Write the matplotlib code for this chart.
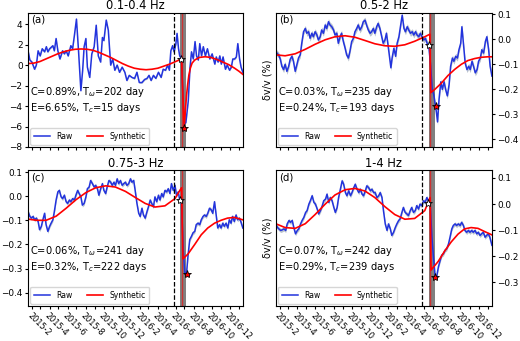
import matplotlib
matplotlib.use("Agg")
import matplotlib.pyplot as plt
import matplotlib.dates as mdates
from matplotlib.ticker import MultipleLocator
import numpy as np
import pandas as pd

t0 = pd.Timestamp("2015-01-18")
t1 = pd.Timestamp("2017-01-15")

# ---- (a) 0.1-0.4 Hz ----
a_days = [0, 6, 13, 22, 28, 34, 41, 48, 56, 62, 67, 73, 84, 89, 95, 101, 108, 117, 123, 129,
          136, 145, 151, 157, 164, 171, 179, 185, 190, 196, 201, 209, 216, 224, 231, 238, 246,
          252, 257, 265, 272, 280, 287, 294, 302, 310, 319, 328, 335, 343, 352, 361, 369, 377,
          386, 395, 403, 410, 417, 425, 433, 442, 451, 458, 466, 473, 479, 484, 490, 495, 501,
          505, 510, 514, 520, 529, 535, 543, 549, 554, 560, 566, 571, 577, 582, 588, 594, 601,
          608, 616, 624, 633, 638, 644, 650, 655, 661, 669, 675, 683, 689, 694, 700, 706, 711,
          717, 722, 728]
a_raw = [1.4, 0.5, 0.3, -0.4, 0.0, 1.4, 0.9, 1.6, 1.3, 1.8, 1.3, 1.6, 1.9, 1.4, 2.6, 1.4, 0.6,
         1.4, 1.1, 1.4, 0.9, 1.9, 1.6, 2.9, 4.5, 1.4, -2.5, -0.5, 1.8, 2.6, -0.2, -1.2, 1.1, 1.8,
         3.9, 0.9, 0.3, 2.7, 2.4, 4.4, 3.4, 0.0, 0.6, -0.5, 0.0, -0.7, -0.2, -0.7, -1.5, -1.0,
         -1.2, -1.3, -0.7, -1.7, -1.7, -1.4, -1.3, -1.0, -1.5, -1.0, -1.3, -0.7, -1.2, -0.4,
         -0.5, 0.0, -0.5, 1.4, 1.9, 1.3, 2.1, 3.1, 1.6, 0.9, 0.6, -5.8, -5.6, -3.5, -0.2, 1.3,
         0.6, 2.3, 0.9, 0.5, 2.1, 0.9, 1.8, 0.9, 1.6, 0.6, 1.1, 0.1, 0.8, 0.3, 0.9, 0.1, 0.8,
         -0.4, 0.0, -0.5, -0.2, 0.6, 0.6, 0.8, 2.1, 0.6, -0.2, -0.7]
a_syn_days = [0, 20, 40, 60, 80, 100, 120, 140, 160, 180, 200, 220, 240, 260, 280, 300, 320,
              340, 360, 380, 400, 420, 440, 460, 480, 500, 520, 529, 533, 537, 541, 545, 550,
              556, 565, 580, 600, 620, 640, 660, 680, 700, 715, 728]
a_syn = [0.15, 0.2, 0.35, 0.6, 0.85, 1.1, 1.3, 1.45, 1.55, 1.58, 1.55, 1.45, 1.25, 1.0, 0.75,
         0.45, 0.15, -0.1, -0.3, -0.4, -0.45, -0.4, -0.3, -0.1, 0.1, 0.35, 0.6, -6.1, -4.5,
         -3.0, -1.9, -1.0, -0.3, 0.2, 0.5, 0.75, 0.82, 0.75, 0.55, 0.3, 0.05, -0.3, -0.6, -0.9]

# ---- (b) 0.5-2 Hz ----
b_days = [0, 4, 10, 16, 21, 27, 32, 38, 44, 49, 55, 60, 66, 72, 77, 83, 88, 94, 100, 105, 111,
          116, 122, 127, 133, 139, 144, 150, 155, 161, 167, 172, 178, 183, 189, 195, 200, 206,
          211, 217, 222, 228, 234, 239, 245, 250, 256, 262, 267, 273, 278, 284, 290, 295, 301,
          306, 312, 318, 323, 329, 334, 340, 345, 351, 357, 362, 368, 373, 379, 385, 388, 392,
          398, 404, 409, 415, 420, 426, 432, 437, 443, 448, 454, 460, 465, 471, 476, 482, 487,
          493, 499, 504, 510, 515, 521, 527, 532, 536, 541, 545, 550, 556, 561, 567, 572, 578,
          584, 589, 595, 600, 606, 612, 617, 623, 627, 633, 638, 644, 650, 655, 661, 666, 672,
          678, 683, 689, 694, 700, 706, 711, 717, 722, 728]
b_raw = [-0.042, -0.055, -0.062, -0.08, -0.108, -0.121, -0.1, -0.128, -0.108, -0.08, -0.068,
         -0.088, -0.128, -0.1, -0.075, -0.062, -0.016, 0.03, 0.043, 0.024, 0.03, 0.004, 0.024,
         0.01, 0.03, 0.017, -0.003, 0.01, 0.037, 0.024, 0.057, 0.043, 0.07, 0.057, 0.05, 0.037,
         0.017, 0.024, -0.016, 0.01, 0.024, -0.009, -0.036, -0.062, -0.075, -0.049, -0.009,
         0.004, 0.03, 0.043, 0.057, 0.037, 0.05, 0.07, 0.076, 0.057, 0.037, 0.024, 0.03, 0.043,
         0.024, 0.05, 0.063, 0.043, 0.01, -0.016, -0.003, 0.024, -0.029, -0.088, -0.114,
         -0.075, -0.036, -0.068, -0.016, 0.01, 0.05, 0.096, 0.043, 0.03, 0.05, 0.037, 0.024,
         0.03, 0.017, 0.03, 0.017, 0.01, 0.024, 0.01, -0.003, 0.004, -0.016, -0.022, -0.095,
         -0.2, -0.22, -0.25, -0.29, -0.33, -0.24, -0.17, -0.2, -0.17, -0.2, -0.226, -0.18,
         -0.108, -0.075, -0.088, -0.068, -0.075, -0.042, -0.016, 0.05, -0.029, -0.095, -0.121,
         -0.108, -0.121, -0.088, -0.108, -0.134, -0.121, -0.088, -0.075, -0.042, -0.055,
         -0.009, 0.01, -0.042, -0.108, -0.147]
b_syn_days = [0, 32, 66, 100, 133, 167, 200, 234, 267, 301, 334, 368, 401, 435, 468, 502, 519,
              522, 536, 558, 580, 603, 625, 647, 670, 692, 714, 728]
b_syn = [-0.062, -0.066, -0.058, -0.04, -0.02, -0.002, 0.01, 0.014, 0.008, -0.005, -0.018,
         -0.026, -0.028, -0.022, -0.008, 0.01, 0.02, -0.213, -0.2, -0.175, -0.145, -0.12,
         -0.1, -0.085, -0.077, -0.072, -0.07, -0.07]

# ---- (c) 0.75-3 Hz and (d) 1-4 Hz share one sampling ----
cd_days = [0, 6, 11, 17, 22, 28, 34, 39, 45, 50, 56, 61, 67, 73, 78, 84, 89, 95, 101, 106, 112,
           117, 123, 129, 134, 140, 145, 151, 157, 162, 168, 173, 179, 184, 190, 196, 201, 207,
           212, 218, 224, 229, 235, 240, 246, 252, 257, 263, 268, 274, 280, 285, 291, 296, 302,
           307, 313, 319, 324, 330, 335, 341, 347, 352, 358, 363, 369, 375, 380, 386, 391, 397,
           403, 408, 414, 419, 425, 430, 436, 442, 447, 453, 458, 464, 470, 475, 481, 486, 492,
           498, 503, 509, 514, 520, 526, 531, 537, 542, 548, 554, 559, 565, 570, 576, 582, 587,
           593, 598, 604, 609, 615, 621, 626, 632, 637, 643, 649, 654, 660, 665, 671, 677, 682,
           688, 693, 699, 705, 710, 716, 721, 728]
c_raw = [-0.064, -0.084, -0.091, -0.084, -0.098, -0.091, -0.105, -0.139, -0.125, -0.098,
         -0.071, -0.118, -0.146, -0.125, -0.112, -0.098, -0.064, -0.016, 0.018, 0.024, -0.003,
         -0.01, 0.004, -0.023, -0.03, -0.016, -0.023, -0.01, -0.016, 0.004, 0.024, 0.011,
         -0.003, -0.037, -0.03, -0.003, 0.031, 0.038, 0.065, 0.052, 0.038, 0.045, 0.031, 0.004,
         0.031, 0.052, 0.024, 0.011, 0.038, 0.065, 0.058, 0.045, 0.058, 0.045, 0.072, 0.052,
         0.065, 0.045, 0.052, 0.058, 0.045, 0.052, 0.072, 0.058, 0.065, 0.024, -0.03, -0.071,
         -0.084, -0.05, -0.078, -0.091, -0.064, -0.044, -0.016, -0.03, -0.044, -0.003, -0.023,
         0.004, -0.016, 0.011, -0.003, 0.024, 0.018, 0.031, 0.011, 0.052, 0.024, 0.045, 0.004,
         0.018, -0.016, -0.03, -0.22, -0.316, -0.322, -0.248, -0.18, -0.166, -0.152, -0.146,
         -0.118, -0.112, -0.118, -0.098, -0.084, -0.078, -0.084, -0.071, -0.05, -0.057, -0.071,
         -0.023, -0.071, -0.132, -0.118, -0.132, -0.112, -0.125, -0.112, -0.132, -0.098,
         -0.112, -0.084, -0.105, -0.078, -0.098, -0.091, -0.105, -0.132]
c_syn_days = [0, 28, 61, 95, 129, 162, 196, 229, 263, 296, 330, 363, 397, 430, 464, 498, 520,
              525, 542, 565, 587, 609, 632, 654, 676, 699, 728]
c_syn = [-0.095, -0.1, -0.1, -0.083, -0.05, -0.015, 0.015, 0.035, 0.043, 0.038, 0.02, -0.005,
         -0.03, -0.045, -0.04, -0.01, 0.035, -0.26, -0.24, -0.2, -0.16, -0.132, -0.112, -0.1,
         -0.091, -0.088, -0.098]

d_raw = [-0.076, -0.089, -0.095, -0.101, -0.099, -0.095, -0.101, -0.076, -0.063, -0.07,
         -0.063, -0.089, -0.114, -0.101, -0.095, -0.076, -0.063, -0.051, -0.032, -0.025, 0.0,
         0.013, 0.032, 0.006, 0.0, -0.019, -0.038, -0.025, -0.006, 0.013, 0.019, 0.038, 0.006,
         0.025, 0.013, -0.013, -0.032, -0.013, 0.025, 0.057, 0.089, 0.076, 0.044, 0.032, 0.051,
         0.032, 0.044, 0.063, 0.076, 0.057, 0.044, 0.057, 0.038, 0.032, 0.051, 0.07, 0.063,
         0.051, 0.057, 0.044, 0.044, 0.025, 0.032, 0.044, 0.025, -0.025, -0.076, -0.101,
         -0.076, -0.095, -0.12, -0.108, -0.089, -0.076, -0.063, -0.057, -0.032, -0.013, -0.032,
         -0.038, -0.044, -0.025, -0.013, -0.032, -0.025, -0.006, -0.019, 0.0, -0.006, 0.013,
         0.006, 0.025, 0.013, 0.006, -0.127, -0.2, -0.278, -0.278, -0.24, -0.215, -0.196,
         -0.19, -0.177, -0.171, -0.152, -0.127, -0.095, -0.082, -0.076, -0.082, -0.076, -0.082,
         -0.07, -0.082, -0.101, -0.108, -0.101, -0.108, -0.101, -0.108, -0.101, -0.114, -0.108,
         -0.12, -0.114, -0.108, -0.127, -0.12, -0.114, -0.127, -0.158]
d_syn_days = [0, 32, 66, 100, 133, 167, 200, 234, 267, 301, 334, 368, 401, 435, 468, 502, 520,
              523, 547, 569, 591, 614, 636, 658, 681, 703, 728]
d_syn = [-0.075, -0.09, -0.093, -0.075, -0.04, 0.0, 0.035, 0.055, 0.06, 0.05, 0.025, -0.01,
         -0.04, -0.058, -0.055, -0.025, 0.025, -0.253, -0.22, -0.18, -0.145, -0.115, -0.095,
         -0.09, -0.093, -0.105, -0.118]

titles = ["0.1-0.4 Hz", "0.5-2 Hz", "0.75-3 Hz", "1-4 Hz"]
letters = ["(a)", "(b)", "(c)", "(d)"]
params = ["C=0.89%, T$_{\\omega}$=202 day\nE=6.65%, T$_c$=15 days",
          "C=0.03%, T$_{\\omega}$=235 day\nE=0.24%, T$_c$=193 days",
          "C=0.06%, T$_{\\omega}$=241 day\nE=0.32%, T$_c$=222 days",
          "C=0.07%, T$_{\\omega}$=242 day\nE=0.29%, T$_c$=239 days"]
errs = [0.08, 0.012, 0.008, 0.008]
ylims = [(-8, 5.1), (-0.43, 0.105), (-0.455, 0.108), (-0.39, 0.13)]
ysteps = [2, 0.1, 0.1, 0.1]
white_star = [(520, 0.6), (515, -0.022), (514, -0.014), (513, 0.003)]
red_star = [(529, -6.1), (539, -0.266), (538, -0.322), (538, -0.281)]
dash_day = 494
band = (515, 535)
drop_day = 521

series = [(a_days, a_raw, a_syn_days, a_syn),
          (b_days, b_raw, b_syn_days, b_syn),
          (cd_days, c_raw, c_syn_days, c_syn),
          (cd_days, d_raw, d_syn_days, d_syn)]


def to_dates(days):
    return t0 + pd.to_timedelta(np.asarray(days), unit="D")


def month_label(v, pos):
    dt = mdates.num2date(v)
    return f"{dt.year}-{dt.month}" if dt.month % 2 == 0 else ""


fig = plt.figure(figsize=(5.2, 3.41), dpi=100)
boxes = [[0.054, 0.569, 0.413, 0.393], [0.530, 0.569, 0.416, 0.393],
         [0.054, 0.103, 0.413, 0.398], [0.530, 0.103, 0.416, 0.398]]

for i in range(4):
    ax = fig.add_axes(boxes[i])
    d, raw, sd, syn = series[i]
    x = to_dates(d)
    raw = np.asarray(raw)
    ax.fill_between(x, raw - errs[i], raw + errs[i], color="#a9b4c2", alpha=0.8, lw=0)
    ax.plot(x, raw, color="#2233dd", lw=1.1, label="Raw")
    ax.plot(to_dates(sd), syn, color="r", lw=1.2, label="Synthetic")
    ax.axvline(to_dates([dash_day])[0], color="k", ls="--", lw=0.9)
    ax.axvspan(to_dates([band[0]])[0], to_dates([band[1]])[0], color="#555555", alpha=0.75, lw=0)
    ax.axvline(to_dates([drop_day])[0], color="r", lw=1.0, alpha=0.6)
    ws, rs = white_star[i], red_star[i]
    ax.plot(to_dates([ws[0]]), [ws[1]], marker="*", ms=6, mfc="w", mec="k", mew=0.6, ls="none", zorder=5)
    ax.plot(to_dates([rs[0]]), [rs[1]], marker="*", ms=6, mfc="r", mec="k", mew=0.6, ls="none", zorder=5)

    ax.set_xlim(t0, t1)
    ax.set_ylim(*ylims[i])
    ax.yaxis.set_major_locator(MultipleLocator(ysteps[i]))
    ax.set_title(titles[i], fontsize=8.3, pad=2.5)
    ax.text(0.015, 0.985, letters[i], transform=ax.transAxes, fontsize=7.3, va="top")
    ax.text(0.01, 0.235, params[i], transform=ax.transAxes, fontsize=7.1, va="bottom",
            linespacing=1.2)
    ax.legend(loc="lower left", ncol=2, fontsize=5.5, handlelength=2.1, columnspacing=1.9,
              borderpad=0.5, borderaxespad=0.3, framealpha=0.8)

    ax.xaxis.set_major_locator(mdates.MonthLocator())
    ax.xaxis.set_major_formatter(plt.FuncFormatter(month_label))
    ax.tick_params(labelsize=6.4, length=2.5, pad=1.5)
    if i < 2:
        ax.tick_params(labelbottom=False)
    else:
        ax.tick_params(axis="x", labelrotation=-45, pad=1.0, labelsize=5.9)
        for lab in ax.get_xticklabels():
            lab.set_ha("left")
            lab.set_va("top")
            lab.set_rotation_mode("anchor")
    if i % 2 == 1:
        ax.yaxis.tick_right()
        ax.set_ylabel("δv/v (%)", fontsize=7, labelpad=2)
        ax.yaxis.set_label_position("left")

fig.savefig("out.png", dpi=100)
